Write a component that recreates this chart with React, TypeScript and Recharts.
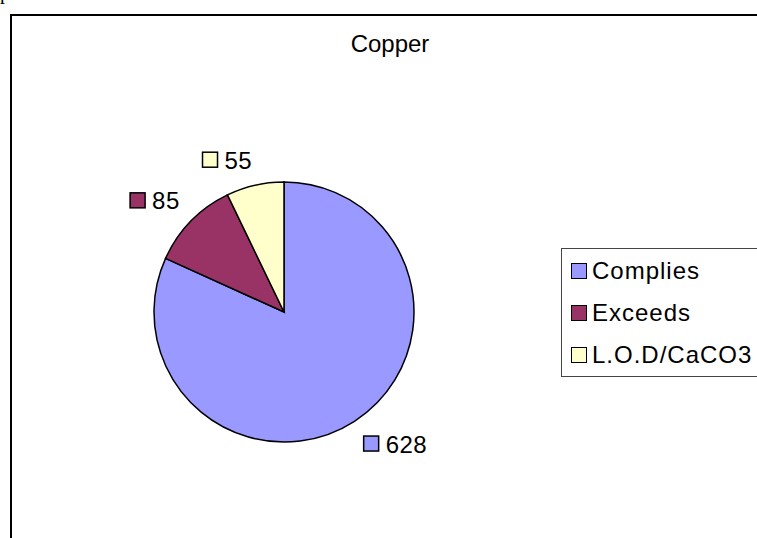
import React from "react";
import { PieChart, Pie, Cell, Legend } from "recharts";

const categories = ["Complies", "Exceeds", "L.O.D/CaCO3"];
const values = [628, 85, 55];
const colors = ["#9999FF", "#993366", "#FFFFCC"];
const title = "Copper";

const data = categories.map((name, i) => ({ name, value: values[i] }));

const FONT = "'Liberation Sans', Arial, sans-serif";
const RAD = Math.PI / 180;

const renderLabel = (props: any) => {
  const { cx, cy, midAngle, outerRadius, value, index } = props;
  const R = outerRadius + 17;
  const c = Math.cos(midAngle * RAD);
  const s = Math.sin(midAngle * RAD);
  const px = cx + R * c;
  const py = cy - R * s;
  const text = String(value);
  const textW = text.length * 0.556 * 24;
  const boxW = 16 + 6 + textW;
  const boxH = 17;
  const left = c >= 0 ? px : px - boxW;
  const top = s >= 0 ? py - boxH : py;
  const midY = top + boxH / 2;
  return (
    <g key={`lbl-${index}`}>
      <rect
        x={left}
        y={midY - 8}
        width={15}
        height={15}
        fill={colors[index]}
        stroke="#000"
        strokeWidth={1.5}
      />
      <text
        x={left + 22}
        y={midY + 8.5}
        fontFamily={FONT}
        fontSize={24}
        fill="#000"
        style={{ letterSpacing: "0.5px" }}
      >
        {text}
      </text>
    </g>
  );
};

const renderLegend = () => (
  <div
    style={{
      border: "1px solid #444",
      width: 220,
      height: 129,
      boxSizing: "border-box",
      paddingTop: 1,
      background: "#fff",
    }}
  >
    {categories.map((name, i) => (
      <div
        key={name}
        style={{
          height: 42,
          display: "flex",
          alignItems: "center",
        }}
      >
        <div
          style={{
            width: 14,
            height: 14,
            marginLeft: 9,
            marginRight: 5,
            background: colors[i],
            border: "1.5px solid #000",
          }}
        />
        <span
          style={{
            fontFamily: FONT,
            fontSize: 24,
            color: "#000",
            lineHeight: "24px",
            letterSpacing: "1px",
          }}
        >
          {name}
        </span>
      </div>
    ))}
  </div>
);

export default function App() {
  return (
    <div
      style={{
        position: "absolute",
        left: 0,
        top: 0,
        width: 757,
        height: 538,
        overflow: "hidden",
        background: "#fff",
      }}
    >
      <svg
        width={757}
        height={538}
        style={{ position: "absolute", left: 0, top: 0 }}
      >
        <text x={0} y={-1} fontFamily="'Liberation Serif', serif" fontSize={20} fill="#000">
          p
        </text>
        <rect
          x={11}
          y={15}
          width={800}
          height={600}
          fill="none"
          stroke="#000"
          strokeWidth={2}
        />
        <text
          x={390}
          y={52}
          textAnchor="middle"
          fontFamily={FONT}
          fontSize={24}
          fill="#000"
        >
          {title}
        </text>
      </svg>
      <div style={{ position: "absolute", left: 0, top: 0 }}>
        <PieChart
          width={757}
          height={538}
          margin={{ top: 0, right: 0, bottom: 0, left: 0 }}
        >
          <Pie
            data={data}
            dataKey="value"
            nameKey="name"
            cx={284}
            cy={312}
            outerRadius={130}
            startAngle={90}
            endAngle={-270}
            stroke="#000"
            strokeWidth={1.5}
            label={renderLabel}
            labelLine={false}
            isAnimationActive={false}
          >
            {data.map((d, i) => (
              <Cell key={d.name} fill={colors[i]} />
            ))}
          </Pie>
          <Legend
            content={renderLegend}
            wrapperStyle={{ position: "absolute", left: 561, top: 248, width: 220 }}
          />
        </PieChart>
      </div>
    </div>
  );
}
